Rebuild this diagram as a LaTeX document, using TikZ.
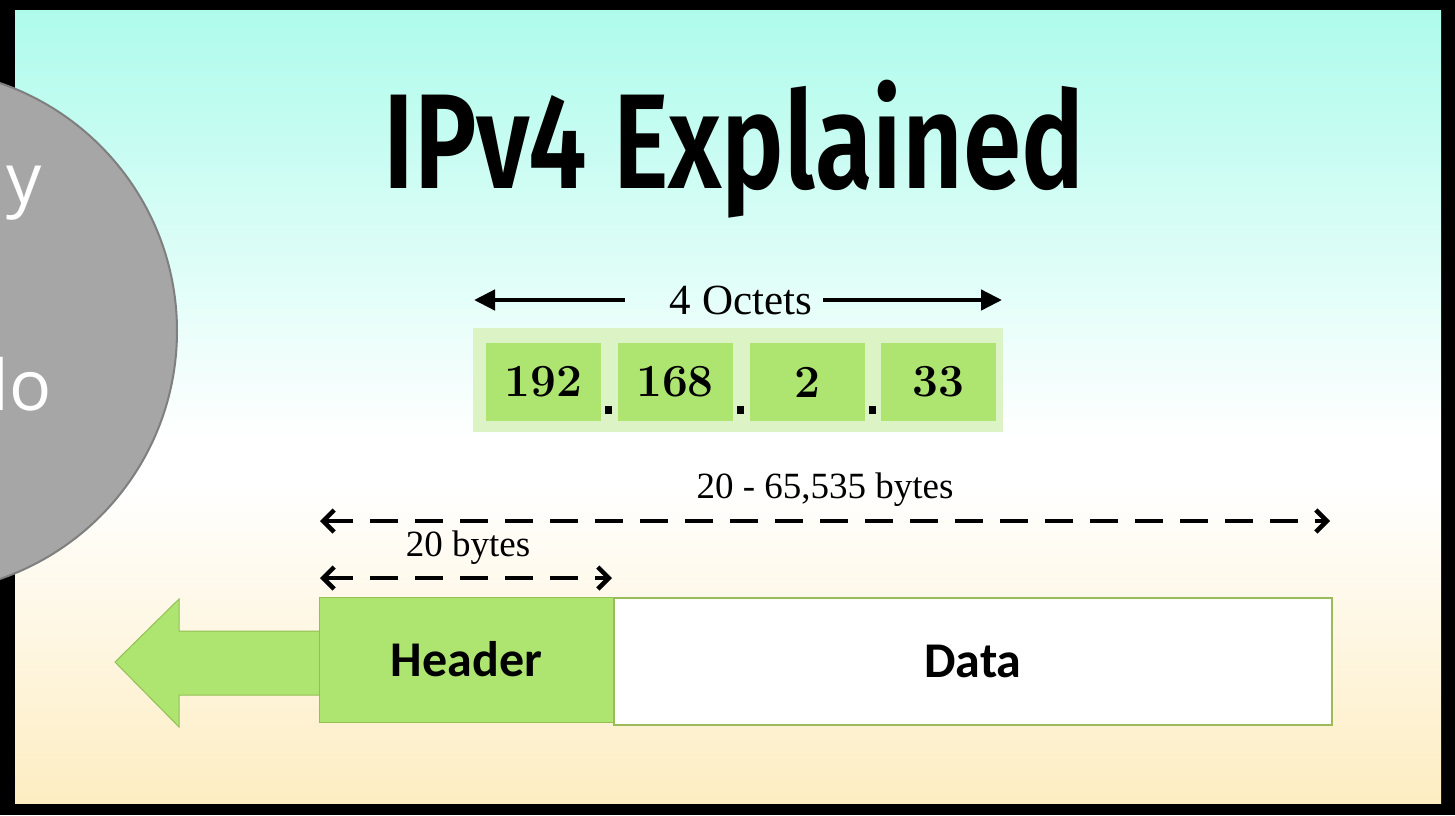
\documentclass[tikz,border=0pt]{standalone}
\usepackage{fontspec}
\usetikzlibrary{arrows.meta}
\newfontfamily\titlefont{Fira Sans}[BoldFont={Fira Sans SemiBold}]
\newfontfamily\calfont{Carlito}
\newfontfamily\osfont{Open Sans}
\newfontfamily\serfont{Liberation Serif}
\definecolor{bgtop}{HTML}{AEFBEC}
\definecolor{bgbot}{HTML}{FDEDC2}
\definecolor{grn}{HTML}{AEE571}
\definecolor{grnlight}{HTML}{DCF3C6}
\definecolor{grnedge}{HTML}{93BF55}
\definecolor{olive}{HTML}{9BBB59}
\definecolor{circfill}{HTML}{A6A6A6}
\definecolor{circedge}{HTML}{7F7F7F}
\pgfdeclareverticalshading{bgshade}{100bp}{color(0bp)=(bgbot); color(25bp)=(bgbot); color(45bp)=(white); color(48bp)=(white); color(75bp)=(bgtop); color(100bp)=(bgtop)}
\tikzset{
  octbox/.style={fill=grn, draw=none, inner sep=0pt, minimum width=115pt, minimum height=78pt,
    font=\fontsize{46}{46}\selectfont\bfseries},
  dotbox/.style={fill=black, inner sep=0pt, minimum width=7pt, minimum height=8pt},
  lbl/.style={inner sep=0pt, font=\serfont\fontsize{37}{37}\selectfont},
  solidarr/.style={line width=4.5pt, -{Triangle[length=21pt,width=20pt]}},
  dasharr/.style={line width=4.5pt, dash pattern=on 28pt off 17pt,
    {Straight Barb[length=11pt,width=22pt]}-{Straight Barb[length=11pt,width=22pt]}},
  circtext/.style={anchor=base east, inner sep=0pt, text=white, font=\osfont\fontsize{70}{70}\selectfont},
  pktbox/.style={inner sep=0pt, font=\calfont\bfseries\fontsize{50}{50}\selectfont}
}
\begin{document}
\begin{tikzpicture}[x=1pt,y=-1pt]
\useasboundingbox (0,0) rectangle (1455,815);
\clip (0,0) rectangle (1455,815);
% frame and background
\fill[black] (0,0) rectangle (1455,815);
\shade[shading=bgshade] (15,10) rectangle (1441,803);
% grey circle overlay
\draw[fill=circfill, draw=circedge, line width=2pt] (-85,331) circle[radius=262];
\node[circtext] (c1) at (42,203) {y};
\node[circtext] (c2) at (52,410) {lo};
% title
\node[anchor=base west, inner sep=0pt, font=\titlefont\bfseries\fontsize{135}{135}\selectfont] (title) at (383,188) {\scalebox{0.78}[1]{IPv4 Explained}};
% 4 octets
\node[inner sep=0pt, font=\serfont\fontsize{43}{43}\selectfont] (oct) at (741,300) {4 Octets};
\coordinate (oLs) at (625,300);
\coordinate (oL) at (474,300);
\coordinate (oRs) at (823,300);
\coordinate (oR) at (1002,300);
\draw[solidarr] (oLs) -- (oL);
\draw[solidarr] (oRs) -- (oR);
\node[fill=grnlight, inner sep=0pt, minimum width=530pt, minimum height=104pt] (ob) at (738,380) {};
\node[octbox] (b1) at (543.5,382) {192};
\node[octbox] (b2) at (675,382) {168};
\node[octbox] (b3) at (807,382) {2};
\node[octbox] (b4) at (938,382) {33};
\node[dotbox] (d1) at (608,410) {};
\node[dotbox] (d2) at (740,410) {};
\node[dotbox] (d3) at (872,410) {};
% byte ranges
\node[lbl] (l1) at (825,490) {20 - 65,535 bytes};
\coordinate (la) at (320,521);
\coordinate (lb) at (1330,521);
\draw[dasharr] (la) -- (lb);
\node[lbl] (l2) at (468,548) {20 bytes};
\coordinate (sa) at (320,578);
\coordinate (sb) at (612,578);
\draw[dasharr] (sa) -- (sb);
% big left arrow
\draw[fill=grn, draw=grnedge, line width=1pt] (115,662) -- (179,599) -- (179,631) -- (325,631) -- (325,695) -- (179,695) -- (179,727) -- cycle;
% packet
\node[pktbox, fill=grn, draw=grnedge, line width=1pt, minimum width=295pt, minimum height=125pt] (hdr) at (466.5,659.5) {Header};
\node[pktbox, fill=white, draw=olive, line width=2.5pt, minimum width=718pt, minimum height=127pt] (dat) at (973,661.5) {Data};
\end{tikzpicture}
\end{document}
